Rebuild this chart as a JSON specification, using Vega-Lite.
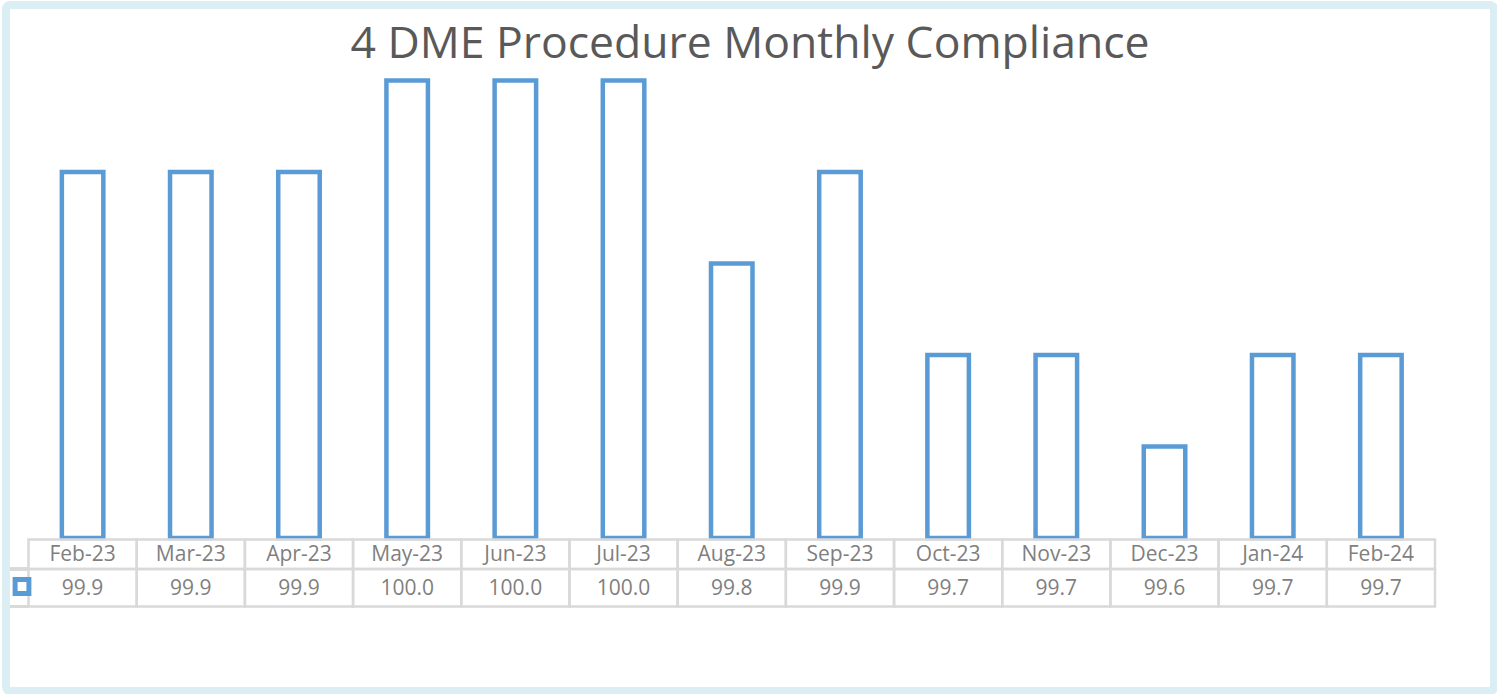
{
  "$schema": "https://vega.github.io/schema/vega-lite/v6.json",
  "width": 1488,
  "height": 686,
  "autosize": {"type": "none"},
  "padding": {"left": 6, "top": 5, "right": 3, "bottom": 3},
  "background": "white",
  "config": {
    "view": {"stroke": "#DAEEF3", "strokeWidth": 8, "fill": "white", "cornerRadius": 4},
    "font": "Open Sans"
  },
  "title": {
    "text": "4 DME Procedure Monthly Compliance",
    "fontSize": 44.5,
    "font": "Open Sans",
    "fontWeight": "normal",
    "color": "#595959",
    "anchor": "middle",
    "frame": "group",
    "baseline": "alphabetic",
    "offset": -97
  },
  "data": {
    "values": [
      {"month": "Feb-23", "value": 99.9},
      {"month": "Mar-23", "value": 99.9},
      {"month": "Apr-23", "value": 99.9},
      {"month": "May-23", "value": 100.0},
      {"month": "Jun-23", "value": 100.0},
      {"month": "Jul-23", "value": 100.0},
      {"month": "Aug-23", "value": 99.8},
      {"month": "Sep-23", "value": 99.9},
      {"month": "Oct-23", "value": 99.7},
      {"month": "Nov-23", "value": 99.7},
      {"month": "Dec-23", "value": 99.6},
      {"month": "Jan-24", "value": 99.7},
      {"month": "Feb-24", "value": 99.7}
    ]
  },
  "resolve": {"scale": {"x": "independent", "y": "independent"}},
  "layer": [
    {
      "mark": {"type": "bar", "fill": "white", "strokeWidth": 4.5, "clip": false},
      "encoding": {
        "x": {"field": "month", "type": "nominal", "sort": null, "axis": null,
              "scale": {"range": [22.5, 1429], "paddingInner": 0.6164, "paddingOuter": 0.3082}},
        "y": {"field": "value", "type": "quantitative", "axis": null,
              "scale": {"domain": [99.5, 100], "range": [533, 75.5], "zero": false, "nice": false}},
        "y2": {"datum": 99.5},
        "stroke": {"datum": "DME", "type": "nominal", "scale": {"range": ["#5B9BD5"]},
                   "legend": {"orient": "none", "legendX": 6.5, "legendY": 572, "title": null,
                              "symbolType": "square", "symbolSize": 190, "symbolStrokeWidth": 5,
                              "symbolFillColor": "white", "labelExpr": "''", "padding": 0,
                              "labelFontSize": 1, "labelOffset": 0}}
      }
    },
    {
      "mark": {"type": "rule", "stroke": "#D9D9D9", "strokeWidth": 2.5},
      "encoding": {
        "x": {"datum": 0, "type": "quantitative", "axis": null,
              "scale": {"domain": [0, 1], "range": [4, 22.5], "nice": false, "zero": false}},
        "x2": {"datum": 1},
        "y": {"datum": "v", "type": "nominal", "axis": null, "bandPosition": 0,
              "scale": {"type": "band", "domain": ["v"], "range": [564, 601.5], "paddingInner": 0, "paddingOuter": 0}}
      }
    },
    {
      "mark": {"type": "rule", "stroke": "#D9D9D9", "strokeWidth": 2.5},
      "encoding": {
        "x": {"datum": 0, "type": "quantitative", "axis": null,
              "scale": {"domain": [0, 1], "range": [4, 22.5], "nice": false, "zero": false}},
        "x2": {"datum": 1},
        "y": {"datum": "v", "type": "nominal", "axis": null, "bandPosition": 1,
              "scale": {"type": "band", "domain": ["v"], "range": [564, 601.5], "paddingInner": 0, "paddingOuter": 0}}
      }
    },
    {
      "mark": {"type": "rect", "filled": false, "stroke": "#D9D9D9", "strokeWidth": 2.5},
      "encoding": {
        "x": {"field": "month", "type": "nominal", "sort": null, "axis": null,
              "scale": {"range": [22.5, 1429], "paddingInner": 0, "paddingOuter": 0}},
        "y": {"datum": "h", "type": "nominal", "axis": null,
              "scale": {"domain": ["h"], "range": [534.5, 564], "paddingInner": 0, "paddingOuter": 0}}
      }
    },
    {
      "mark": {"type": "rect", "filled": false, "stroke": "#D9D9D9", "strokeWidth": 2.5},
      "encoding": {
        "x": {"field": "month", "type": "nominal", "sort": null, "axis": null,
              "scale": {"range": [22.5, 1429], "paddingInner": 0, "paddingOuter": 0}},
        "y": {"datum": "v", "type": "nominal", "axis": null,
              "scale": {"domain": ["v"], "range": [564, 601.5], "paddingInner": 0, "paddingOuter": 0}}
      }
    },
    {
      "mark": {"type": "text", "fontSize": 21, "color": "#7F7F7F", "baseline": "alphabetic", "dy": 7},
      "encoding": {
        "x": {"field": "month", "type": "nominal", "sort": null, "axis": null,
              "scale": {"range": [22.5, 1429], "paddingInner": 0, "paddingOuter": 0}},
        "y": {"datum": "h", "type": "nominal", "axis": null,
              "scale": {"domain": ["h"], "range": [534.5, 564], "paddingInner": 0, "paddingOuter": 0}},
        "text": {"field": "month", "type": "nominal"}
      }
    },
    {
      "mark": {"type": "text", "fontSize": 21, "color": "#7F7F7F", "baseline": "alphabetic", "dy": 7},
      "encoding": {
        "x": {"field": "month", "type": "nominal", "sort": null, "axis": null,
              "scale": {"range": [22.5, 1429], "paddingInner": 0, "paddingOuter": 0}},
        "y": {"datum": "v", "type": "nominal", "axis": null,
              "scale": {"domain": ["v"], "range": [564, 601.5], "paddingInner": 0, "paddingOuter": 0}},
        "text": {"field": "value", "type": "quantitative", "format": ".1f"}
      }
    }
  ]
}
